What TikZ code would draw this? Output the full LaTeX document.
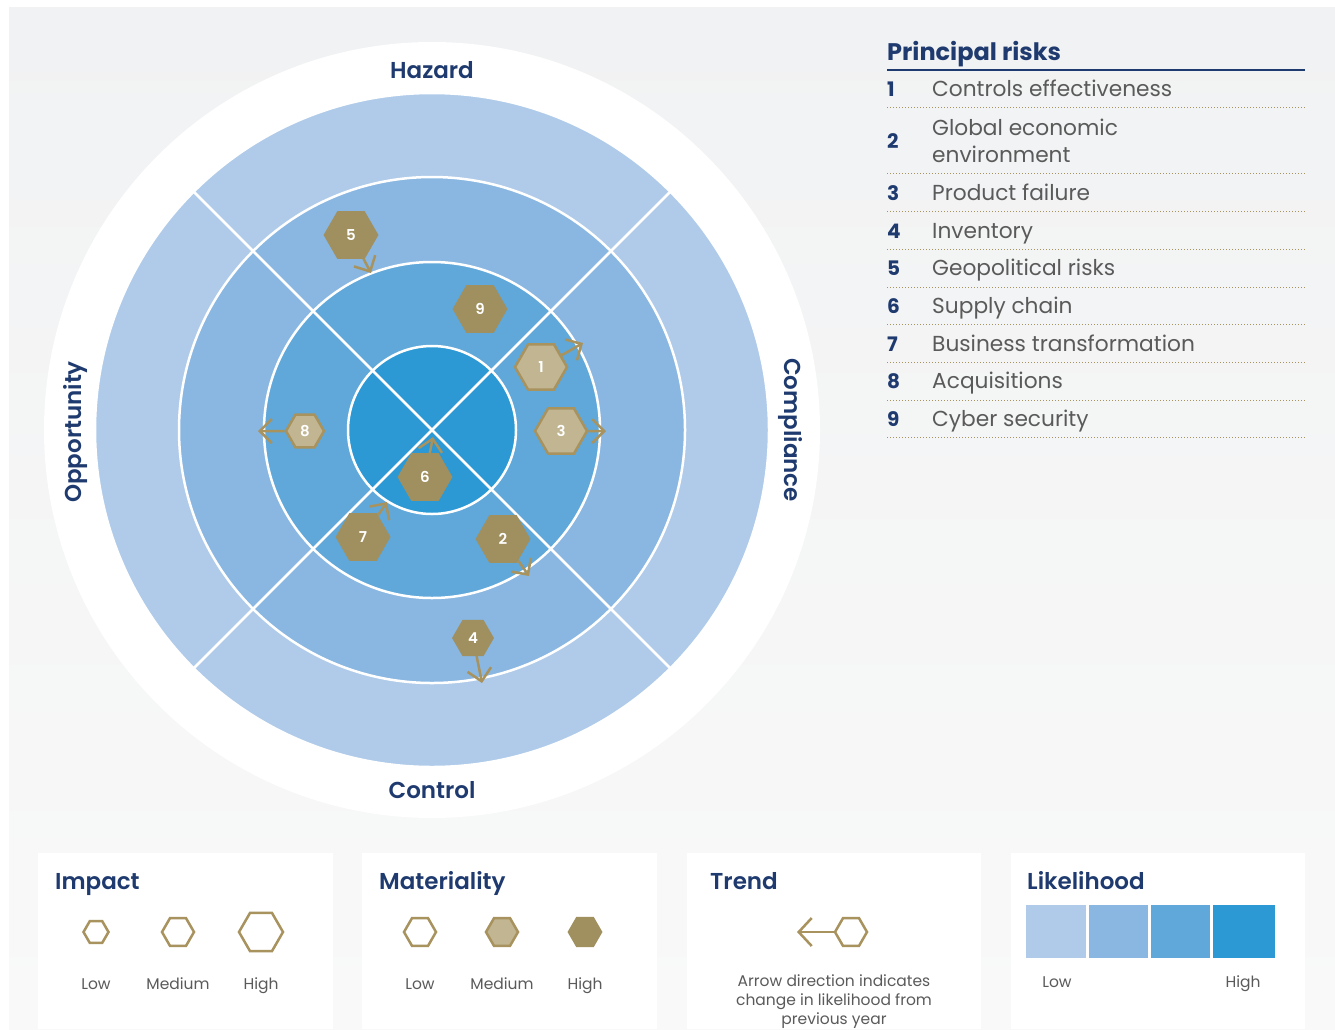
\documentclass[tikz,border=0pt]{standalone}
\usepackage{fontspec}
\setmainfont{Poppins}
\newfontface\semib{Poppins SemiBold}
\usetikzlibrary{shapes.geometric,arrows.meta}
\definecolor{navy}{HTML}{1E3A6E}
\definecolor{gold}{HTML}{A8925E}
\definecolor{golddark}{HTML}{A08F5F}
\definecolor{goldlight}{HTML}{C1B592}
\definecolor{ringa}{HTML}{AFCBE9}
\definecolor{ringb}{HTML}{89B7E1}
\definecolor{ringc}{HTML}{5FA8D9}
\definecolor{ringd}{HTML}{2C99D4}
\definecolor{txtgray}{HTML}{5A5A5A}
\definecolor{bgtop}{HTML}{F1F2F3}
\definecolor{bgbottom}{HTML}{F9F9F9}

\tikzset{
  hexa/.style={regular polygon, regular polygon sides=6, inner sep=0pt,
    minimum size=#1, line width=2.5pt, text=white,
    font=\semib\fontsize{15}{15}\selectfont},
  hexa/.default=52,
  hexhigh/.style={hexa=#1, fill=golddark, draw=golddark},
  hexhigh/.default=52,
  hexmed/.style={hexa=#1, fill=goldlight, draw=gold},
  hexmed/.default=52,
  hexlow/.style={hexa=#1, fill=white, draw=gold},
  hexlow/.default=32,
  trend/.style={gold, line width=2.5pt, -{Straight Barb[length=12pt,width=24pt]}},
  ring/.style={draw=white, line width=2.5pt},
  sector/.style={navy, font=\semib\fontsize{23}{23}\selectfont},
  legtitle/.style={navy, anchor=base west, inner sep=0pt, font=\semib\fontsize{23}{23}\selectfont},
  leglabel/.style={txtgray, anchor=base, inner sep=0pt, font=\fontsize{15.5}{15.5}\selectfont},
  risknum/.style={navy, anchor=base west, inner sep=0pt, font=\bfseries\fontsize{20}{20}\selectfont},
  risktext/.style={txtgray, anchor=base west, inner sep=0pt, font=\fontsize{21.7}{27}\selectfont},
  riskrule/.style={gold, line width=1pt, dash pattern=on 1pt off 2pt}
}

\begin{document}
\begin{tikzpicture}[x=1pt,y=-1pt]
\useasboundingbox (0,0) rectangle (1335,1029);
\fill[white] (0,0) rectangle (1335,1029);
\shade[top color=bgtop, bottom color=bgbottom] (9,7) rectangle (1335,1029);

% legend panels
\fill[white] (38,853) rectangle (333,1029);
\fill[white] (362,853) rectangle (657,1029);
\fill[white] (687,853) rectangle (981,1029);
\fill[white] (1011,853) rectangle (1305,1029);

% target
\coordinate (o) at (432,430);
\coordinate (nw) at (193.7,191.7);
\coordinate (ne) at (670.3,191.7);
\coordinate (se) at (670.3,668.3);
\coordinate (sw) at (193.7,668.3);

\fill[white] (o) circle[radius=388];
\draw[ring, fill=ringa] (o) circle[radius=337];
\draw[ring, fill=ringb] (o) circle[radius=253];
\draw[ring, fill=ringc] (o) circle[radius=168];
\draw[ring, fill=ringd] (o) circle[radius=84];
\draw[ring] (nw) -- (se);
\draw[ring] (ne) -- (sw);

\node[sector] (hazard) at (432,70) {Hazard};
\node[sector] (control) at (432,790) {Control};
\node[sector, rotate=90] (opportunity) at (76,432) {Opportunity};
\node[sector, rotate=-90] (compliance) at (790,430) {Compliance};

% risks
\node[hexhigh] (h5) at (351,235) {5};
\node[hexhigh] (h9) at (480,309) {9};
\node[hexmed] (h1) at (541,367) {1};
\node[hexmed] (h3) at (561,431) {3};
\node[hexmed=38] (h8) at (305,431) {8};
\node[hexhigh] (h6) at (425,477) {6};
\node[hexhigh] (h7) at (363,537) {7};
\node[hexhigh] (h2) at (503,539) {2};
\node[hexhigh=39] (h4) at (473,638) {4};

\coordinate (t5) at (371,273);
\coordinate (t1) at (583,343);
\coordinate (t3) at (606,431);
\coordinate (t8) at (258,431);
\coordinate (t6) at (433,437);
\coordinate (t7) at (387,502);
\coordinate (t2) at (529,576);
\coordinate (t4) at (482,683);

\draw[trend] (h5) -- (t5);
\draw[trend] (h1) -- (t1);
\draw[trend] (h3) -- (t3);
\draw[trend] (h8) -- (t8);
\draw[trend] (h6) -- (t6);
\draw[trend] (h7) -- (t7);
\draw[trend] (h2) -- (t2);
\draw[trend] (h4) -- (t4);

% principal risks list
\node[navy, anchor=base west, inner sep=0pt, font=\bfseries\fontsize{24}{24}\selectfont] (title) at (887,60) {Principal risks};
\draw[navy, line width=1.5pt] (887,70) -- (1305,70);

\node[risknum] (n1) at (887,96.5) {1};
\node[risktext] (r1) at (932,96.5) {Controls effectiveness};
\draw[riskrule] (887,107) -- (1305,107);
\node[risknum] (n2) at (887,148.5) {2};
\node[risktext] (r2a) at (932,135.5) {Global economic};
\node[risktext] (r2b) at (932,162.5) {environment};
\draw[riskrule] (887,173) -- (1305,173);
\node[risknum] (n3) at (887,200.5) {3};
\node[risktext] (r3) at (932,200.5) {Product failure};
\draw[riskrule] (887,211) -- (1305,211);
\node[risknum] (n4) at (887,238.5) {4};
\node[risktext] (r4) at (932,238.5) {Inventory};
\draw[riskrule] (887,249) -- (1305,249);
\node[risknum] (n5) at (887,275.5) {5};
\node[risktext] (r5) at (932,275.5) {Geopolitical risks};
\draw[riskrule] (887,287) -- (1305,287);
\node[risknum] (n6) at (887,313.5) {6};
\node[risktext] (r6) at (932,313.5) {Supply chain};
\draw[riskrule] (887,324) -- (1305,324);
\node[risknum] (n7) at (887,351.5) {7};
\node[risktext] (r7) at (932,351.5) {Business transformation};
\draw[riskrule] (887,362) -- (1305,362);
\node[risknum] (n8) at (887,388.5) {8};
\node[risktext] (r8) at (932,388.5) {Acquisitions};
\draw[riskrule] (887,400) -- (1305,400);
\node[risknum] (n9) at (887,426.5) {9};
\node[risktext] (r9) at (932,426.5) {Cyber security};
\draw[riskrule] (887,437) -- (1305,437);

% impact
\node[legtitle] (impact) at (55,889) {Impact};
\node[hexlow=25] (implow) at (96,932) {};
\node[hexlow=32] (impmed) at (178,932) {};
\node[hexlow=44] (imphigh) at (261,932) {};
\node[leglabel] (implowl) at (96,989) {Low};
\node[leglabel] (impmedl) at (178,989) {Medium};
\node[leglabel] (imphighl) at (261,989) {High};

% materiality
\node[legtitle] (materiality) at (379,889) {Materiality};
\node[hexlow] (matlow) at (420,932) {};
\node[hexmed=32] (matmed) at (502,932) {};
\node[hexhigh=32] (mathigh) at (585,932) {};
\node[leglabel] (matlowl) at (420,989) {Low};
\node[leglabel] (matmedl) at (502,989) {Medium};
\node[leglabel] (mathighl) at (585,989) {High};

% trend
\node[legtitle] (trendt) at (710,889) {Trend};
\node[hexlow] (trendhex) at (851,932) {};
\coordinate (trendtip) at (797,932);
\draw[trend, -{Straight Barb[length=13pt,width=28pt]}] (trendhex) -- (trendtip);
\node[leglabel] (trendtxta) at (834,986) {Arrow direction indicates};
\node[leglabel] (trendtxtb) at (834,1005) {change in likelihood from};
\node[leglabel] (trendtxtc) at (834,1024) {previous year};

% likelihood
\node[legtitle] (likelihood) at (1027,889) {Likelihood};
\fill[ringa] (1026,905) rectangle (1086,958);
\fill[ringb] (1089,905) rectangle (1148,958);
\fill[ringc] (1151,905) rectangle (1210,958);
\fill[ringd] (1213,905) rectangle (1275,958);
\node[leglabel] (likelow) at (1057,987) {Low};
\node[leglabel] (likehigh) at (1243,987) {High};
\end{tikzpicture}
\end{document}
